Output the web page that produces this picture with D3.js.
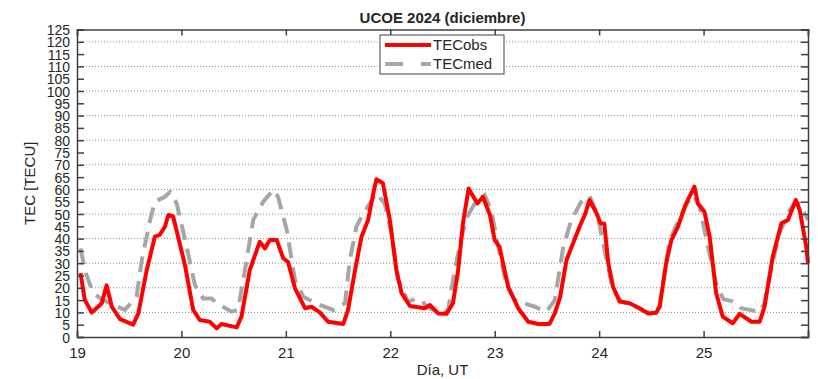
<!DOCTYPE html>
<html>
<head>
<meta charset="utf-8">
<script src="https://cdn.jsdelivr.net/npm/d3@7"></script>
<style>
  body { margin: 0; background: #fff; }
  text { font-family: "Liberation Sans", Arial, sans-serif; fill: #262626; }
</style>
</head>
<body>
<script>
// data: hours since 19 dic 00 UT, TEC in TECU
var obsHour = [0.8,1.8,3.4,5.7,6.8,8,9.9,12.9,14.1,16,17.9,19,20.2,21,22.1,24.8,26.7,28.2,30.5,32.1,33.2,36.7,37.8,39.7,42,43.2,44.3,45.9,47.4,48.5,50.1,52.4,53.9,55.8,57.7,61.2,62.3,63.9,65.4,66.9,68.1,68.8,70.3,71.9,73.4,74.6,76.5,79.9,81.1,83,84.9,86.4,87.6,88.7,90,92,93.3,94.9,96,97.1,99.1,101.4,103.7,106,108.6,109.8,111,112.5,115.5,116.7,117.8,119.4,120.3,121.2,122.1,123.2,124.7,127,129.3,131.2,133.1,133.9,135.4,136.6,138.1,140,141.9,142.7,144.2,145.4,146.9,148.4,150.7,152.3,155,156.9,158,159.9,161.9,163.4,165.2,166.1,167.6,168];
var obsTec  = [26,15,10,13.7,21,12.3,7.3,5,9.6,27,40.8,41.5,44.8,49.6,49,29.3,11,6.9,6.2,3.5,5.3,3.9,8.3,27.2,38.7,36,39.4,39.4,32,30.5,19.8,11.7,12.3,10,6.2,5.3,11,27.2,40.8,47.6,58.4,64.1,62.5,47.6,27.2,17.8,12.6,11.7,13,9.6,9.4,13.7,27.2,46.2,60.4,54.3,57,49.6,39.4,36.6,20.4,11.7,6.2,5.3,5.3,9.6,16,31.3,44.8,49.6,55.7,50.3,46.2,46,30,20.4,14.4,13.7,11.7,9.6,9.9,12.3,30,39.4,44.8,54.3,61.1,54.3,50.9,40.8,17.8,8.3,5.6,9.4,6.2,6.2,12.3,32.7,46.2,47.6,55.7,51.6,36.7,30];

var medHour = [0.8,2,3.7,5.5,7.6,11,13.7,14.9,16.8,17.9,20.2,21.4,22.9,25.2,27.1,29,30.9,32.1,35.5,37,38.6,40.5,42.8,45.1,46.2,48.2,50.1,52,55.4,58.9,61.6,62.7,64.2,65,67.3,68.8,70.7,72.3,73.8,76.1,77.6,79.2,80.3,84.1,85.3,86.8,88.4,89.5,91.4,93.7,95.2,96.8,98.7,100.6,105.2,107.9,109.8,111.7,113.6,115.9,117.8,119.7,121.7,123.2,125.1,128.5,130.5,132.4,133.9,135.1,136.2,137.8,139.7,141.6,143.1,145,146.9,148.5,150.7,152.6,156.9,158,159.5,161.4,163.8,164.9,166.1,168];
var medTec  = [36,26,18,15.5,13.7,11,16.4,31.3,47.6,55,57,59,54.3,36.7,21.1,15.7,15.7,13.7,10.3,11,27.2,47.6,55,59.8,57,43.5,23.2,16.4,13.3,11,13.7,31.3,44.8,47.6,54.3,58.4,54.3,42.1,23.2,14.4,15.3,15,12.3,9.6,11,27.2,40.8,48.2,54.3,57.7,51.6,36.7,21.1,15,12.3,10.3,15,36,47.6,55,57.3,49,31.3,19.1,14.4,12.3,10.3,10,12.3,27.2,39.4,45.5,53,57.7,53,36.7,21.8,15.5,14.4,11.7,10.3,13.7,27.2,42.1,51.6,54.3,54.3,47.6];

var dayTicks = [19, 20, 21, 22, 23, 24, 25, 26];
var dayLabels = ["19", "20", "21", "22", "23", "24", "25", ""];
var tecTicks = d3.range(0, 126, 5);
var gridTicks = d3.range(10, 121, 10);
var seriesNames = ["TECobs", "TECmed"];

var W = 818, H = 379;
var margin = {top: 29.5, right: 10, bottom: 42, left: 77};
var width = W - margin.left - margin.right,
    height = H - margin.top - margin.bottom;

var svg = d3.select("body").append("svg")
    .attr("width", W)
    .attr("height", H);

var g = svg.append("g")
    .attr("transform", "translate(" + margin.left + "," + margin.top + ")");

var x = d3.scaleLinear().domain([19, 26]).range([0, width]);
var y = d3.scaleLinear().domain([0, 125]).range([height, 0]);

//grid
g.selectAll(".grid").data(gridTicks).enter().append("line")
    .attr("x1", 0).attr("x2", width)
    .attr("y1", function(d) { return y(d); })
    .attr("y2", function(d) { return y(d); })
    .attr("stroke", "#8c8c8c")
    .attr("stroke-width", 1)
    .attr("stroke-dasharray", "1,2");

//lines
var line = d3.line()
    .x(function(d) { return x(19 + d[0] / 24); })
    .y(function(d) { return y(d[1]); });

var medData = medHour.map(function(h, i) { return [h, medTec[i]]; });
var obsData = obsHour.map(function(h, i) { return [h, obsTec[i]]; });

g.append("path")
    .datum(medData)
    .attr("d", line)
    .attr("fill", "none")
    .attr("stroke", "#a6a6a6")
    .attr("stroke-width", 4)
    .attr("stroke-dasharray", "16,9");

g.append("path")
    .datum(obsData)
    .attr("d", line)
    .attr("fill", "none")
    .attr("stroke", "#ff0000")
    .attr("stroke-width", 4)
    .attr("stroke-linejoin", "round");

//axes
var axisColor = "#404040";
var yLeft = g.append("g").call(d3.axisLeft(y).tickValues(tecTicks).tickSize(-7).tickPadding(7));
var yRight = g.append("g").attr("transform", "translate(" + width + ",0)")
    .call(d3.axisRight(y).tickValues(tecTicks).tickSize(-7).tickFormat(""));
var xBottom = g.append("g").attr("transform", "translate(0," + height + ")")
    .call(d3.axisBottom(x).tickValues(dayTicks).tickSize(-6).tickPadding(10)
      .tickFormat(function(d, i) { return dayLabels[i]; }));
var xTop = g.append("g")
    .call(d3.axisTop(x).tickValues(dayTicks).tickSize(-6).tickFormat(""));

[yLeft, yRight, xBottom, xTop].forEach(function(a) {
  a.select(".domain").attr("stroke", axisColor).attr("stroke-width", 1.5);
  a.selectAll(".tick line").attr("stroke", axisColor).attr("stroke-width", 1.5);
  a.selectAll(".tick text").attr("fill", "#262626").style("font-size", "15px")
    .style("font-family", "'Liberation Sans', Arial, sans-serif");
});
yLeft.selectAll(".tick text").attr("dy", "0.36em").style("font-size", "14px");

//titles
svg.append("text")
    .attr("x", margin.left + width / 2).attr("y", 23)
    .attr("text-anchor", "middle")
    .style("font-size", "15px").style("font-weight", "bold")
    .text("UCOE 2024 (diciembre)");

svg.append("text")
    .attr("x", margin.left + width / 2).attr("y", 375)
    .attr("text-anchor", "middle")
    .style("font-size", "15px")
    .text("Día, UT");

svg.append("text")
    .attr("transform", "translate(35," + (margin.top + height / 2) + ") rotate(-90)")
    .attr("text-anchor", "middle")
    .style("font-size", "15px")
    .text("TEC [TECU]");

//legend
var leg = svg.append("g").attr("transform", "translate(380,35)");
leg.append("rect")
    .attr("width", 124).attr("height", 39)
    .attr("fill", "#fff")
    .attr("stroke", "#404040").attr("stroke-width", 1);

var legItems = leg.selectAll(".li").data(seriesNames).enter().append("g")
    .attr("transform", function(d, i) { return "translate(0," + (10 + i * 19) + ")"; });

legItems.append("line")
    .attr("x1", 5).attr("x2", 51)
    .attr("stroke", function(d, i) { return i == 0 ? "#ff0000" : "#a6a6a6"; })
    .attr("stroke-width", 4)
    .attr("stroke-dasharray", function(d, i) { return i == 0 ? null : "18,18"; });

legItems.append("text")
    .attr("x", 53).attr("dy", "0.36em")
    .style("font-size", "15px")
    .text(function(d) { return d; });
</script>
</body>
</html>
